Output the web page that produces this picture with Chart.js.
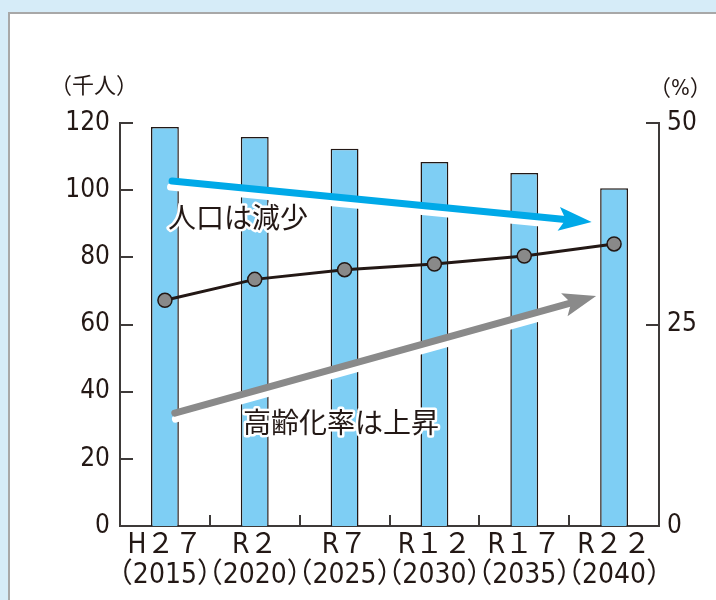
<!DOCTYPE html>
<html>
<head>
<meta charset="utf-8">
<script src="https://cdn.jsdelivr.net/npm/chart.js@4.4.1/dist/chart.umd.min.js"></script>
<style>
  html, body { margin: 0; padding: 0; }
  body { width: 716px; height: 600px; background: #d6ecf8; position: relative; overflow: hidden; }
  #panel { position: absolute; left: 8px; top: 12px; right: -4px; bottom: -4px; background: #fff; border-left: 2px solid #a8a8a8; border-top: 2px solid #a8a8a8; }
  #chart { position: absolute; left: 0; top: 0; }
</style>
</head>
<body>
<div id="panel"></div>
<canvas id="chart" width="716" height="600"></canvas>
<script>
// era / year labels for the x axis
const eraLabels = ['H２７', 'R２', 'R７', 'R１２', 'R１７', 'R２２'];
const yearLabels = ['（2015）', '（2020）', '（2025）', '（2030）', '（2035）', '（2040）'];

// population (thousand people) - bars, left axis
const population = [118.8, 115.8, 112.3, 108.4, 105.1, 100.6];
// aging rate (%) - line, right axis
const agingRate = [28.0, 30.6, 31.8, 32.5, 33.5, 35.0];

const leftTicks = [0, 20, 40, 60, 80, 100, 120];
const rightTicks = [0, 25, 50];

// trend arrows, in (category index, thousand people)
const popArrow = [[0.08, 102.7], [4.75, 90.5]];
const ageArrow = [[0.11, 33.6], [4.80, 68.5]];
const popNote = { text: '人口は減少', at: [0.035, 92.0] };
const ageNote = { text: '高齢化率は上昇', at: [0.87, 31.0] };

const INK = '#231815';
const NUM_FONT = "'Liberation Sans Narrow', 'DejaVu Sans Condensed', 'Noto Sans CJK JP', sans-serif";
const JP_FONT = "'Noto Sans CJK JP', sans-serif";

function drawArrow(ctx, x0, y0, x1, y1, color) {
    const a = Math.atan2(y1 - y0, x1 - x0);
    const len = Math.hypot(x1 - x0, y1 - y0);
    const head = 33, half = 12, notch = 7;
    ctx.save();
    ctx.translate(x0, y0);
    ctx.rotate(a);
    // white outline under the shaft
    ctx.lineCap = 'round';
    ctx.strokeStyle = '#fff';
    ctx.lineWidth = 7;
    ctx.beginPath();
    ctx.moveTo(-1, 6);
    ctx.lineTo(len - head, 6);
    ctx.stroke();
    ctx.strokeStyle = color;
    ctx.lineWidth = 7;
    ctx.beginPath();
    ctx.moveTo(0, 0);
    ctx.lineTo(len - head + notch + 2, 0);
    ctx.stroke();
    ctx.fillStyle = color;
    ctx.beginPath();
    ctx.moveTo(len, 0);
    ctx.lineTo(len - head, -half);
    ctx.lineTo(len - head + notch, 0);
    ctx.lineTo(len - head, half);
    ctx.closePath();
    ctx.fill();
    ctx.restore();
}

function drawNote(ctx, note, x, y) {
    const px = x.getPixelForValue(note.at[0]);
    const py = y.getPixelForValue(note.at[1]);
    ctx.save();
    ctx.font = '28px ' + JP_FONT;
    ctx.textAlign = 'left';
    ctx.textBaseline = 'middle';
    ctx.lineJoin = 'round';
    ctx.strokeStyle = '#fff';
    ctx.lineWidth = 5;
    ctx.strokeText(note.text, px, py);
    ctx.fillStyle = INK;
    ctx.fillText(note.text, px, py);
    ctx.restore();
}

const decorations = {
    id: 'decorations',
    afterDatasetsDraw(chart) {
        const ctx = chart.ctx;
        const x = chart.scales.x, y = chart.scales.y;
        drawArrow(ctx, x.getPixelForValue(popArrow[0][0]), y.getPixelForValue(popArrow[0][1]),
            x.getPixelForValue(popArrow[1][0]), y.getPixelForValue(popArrow[1][1]), '#00a9e8');
        drawArrow(ctx, x.getPixelForValue(ageArrow[0][0]), y.getPixelForValue(ageArrow[0][1]),
            x.getPixelForValue(ageArrow[1][0]), y.getPixelForValue(ageArrow[1][1]), '#8a8a8a');
        drawNote(ctx, popNote, x, y);
        drawNote(ctx, ageNote, x, y);
    },
    afterDraw(chart) {
        const ctx = chart.ctx;
        const a = chart.chartArea;
        const x = chart.scales.x, y = chart.scales.y, y1 = chart.scales.y1;
        ctx.save();
        ctx.strokeStyle = '#3e3a39';
        ctx.lineWidth = 2;
        ctx.beginPath();
        // inward ticks on both value axes
        leftTicks.forEach(v => {
            const py = Math.round(y.getPixelForValue(v));
            ctx.moveTo(a.left, py); ctx.lineTo(a.left + 13, py);
        });
        rightTicks.forEach(v => {
            const py = Math.round(y1.getPixelForValue(v));
            ctx.moveTo(a.right, py); ctx.lineTo(a.right - 13, py);
        });
        // category boundary ticks
        for (let i = 1; i < eraLabels.length; i++) {
            const px = Math.round(x.getPixelForValue(i - 0.5));
            ctx.moveTo(px, a.bottom); ctx.lineTo(px, a.bottom - 11);
        }
        ctx.stroke();
        // unit titles
        ctx.fillStyle = INK;
        ctx.font = '22px ' + NUM_FONT;
        ctx.textBaseline = 'middle';
        ctx.textAlign = 'left';
        ctx.fillText('（千人）', a.left - 70, a.top - 36);
        ctx.fillText('（%）', a.right - 10, a.top - 34);
        ctx.restore();
    }
};

new Chart(document.getElementById('chart').getContext('2d'), {
    type: 'bar',
    data: {
        labels: eraLabels.map((e, i) => [e, yearLabels[i]]),
        datasets: [
            {
                type: 'line',
                label: '高齢化率',
                data: agingRate,
                yAxisID: 'y1',
                borderColor: INK,
                borderWidth: 3,
                pointRadius: 7,
                pointBackgroundColor: '#898989',
                pointBorderColor: INK,
                pointBorderWidth: 1.5,
                order: 0
            },
            {
                label: '人口',
                data: population,
                yAxisID: 'y',
                backgroundColor: '#7ecef4',
                borderColor: INK,
                borderWidth: 1.5,
                categoryPercentage: 1,
                barPercentage: 0.31,
                order: 1
            }
        ]
    },
    options: {
        responsive: false,
        animation: false,
        devicePixelRatio: 1,
        layout: { padding: { top: 123, left: 0, right: 0, bottom: 0 } },
        plugins: { legend: { display: false }, tooltip: { enabled: false } },
        scales: {
            x: {
                offset: true,
                grid: { display: false, drawTicks: false },
                border: { display: true, color: '#3e3a39', width: 2 },
                ticks: { color: INK, font: { family: NUM_FONT, size: 28, lineHeight: 1.1 }, padding: 4, maxRotation: 0, autoSkip: false },
                afterFit(s) { s.height = 74; }
            },
            y: {
                position: 'left',
                min: 0, max: 120,
                grid: { display: false, drawTicks: false },
                border: { display: true, color: '#3e3a39', width: 2 },
                ticks: { stepSize: 20, color: INK, font: { family: NUM_FONT, size: 26 }, padding: 10 },
                afterFit(s) { s.width = 120; }
            },
            y1: {
                position: 'right',
                min: 0, max: 50,
                grid: { display: false, drawTicks: false },
                border: { display: true, color: '#3e3a39', width: 2 },
                ticks: { stepSize: 25, color: INK, font: { family: NUM_FONT, size: 26 }, padding: 8 },
                afterFit(s) { s.width = 57; }
            }
        }
    },
    plugins: [decorations]
});
</script>
</body>
</html>
